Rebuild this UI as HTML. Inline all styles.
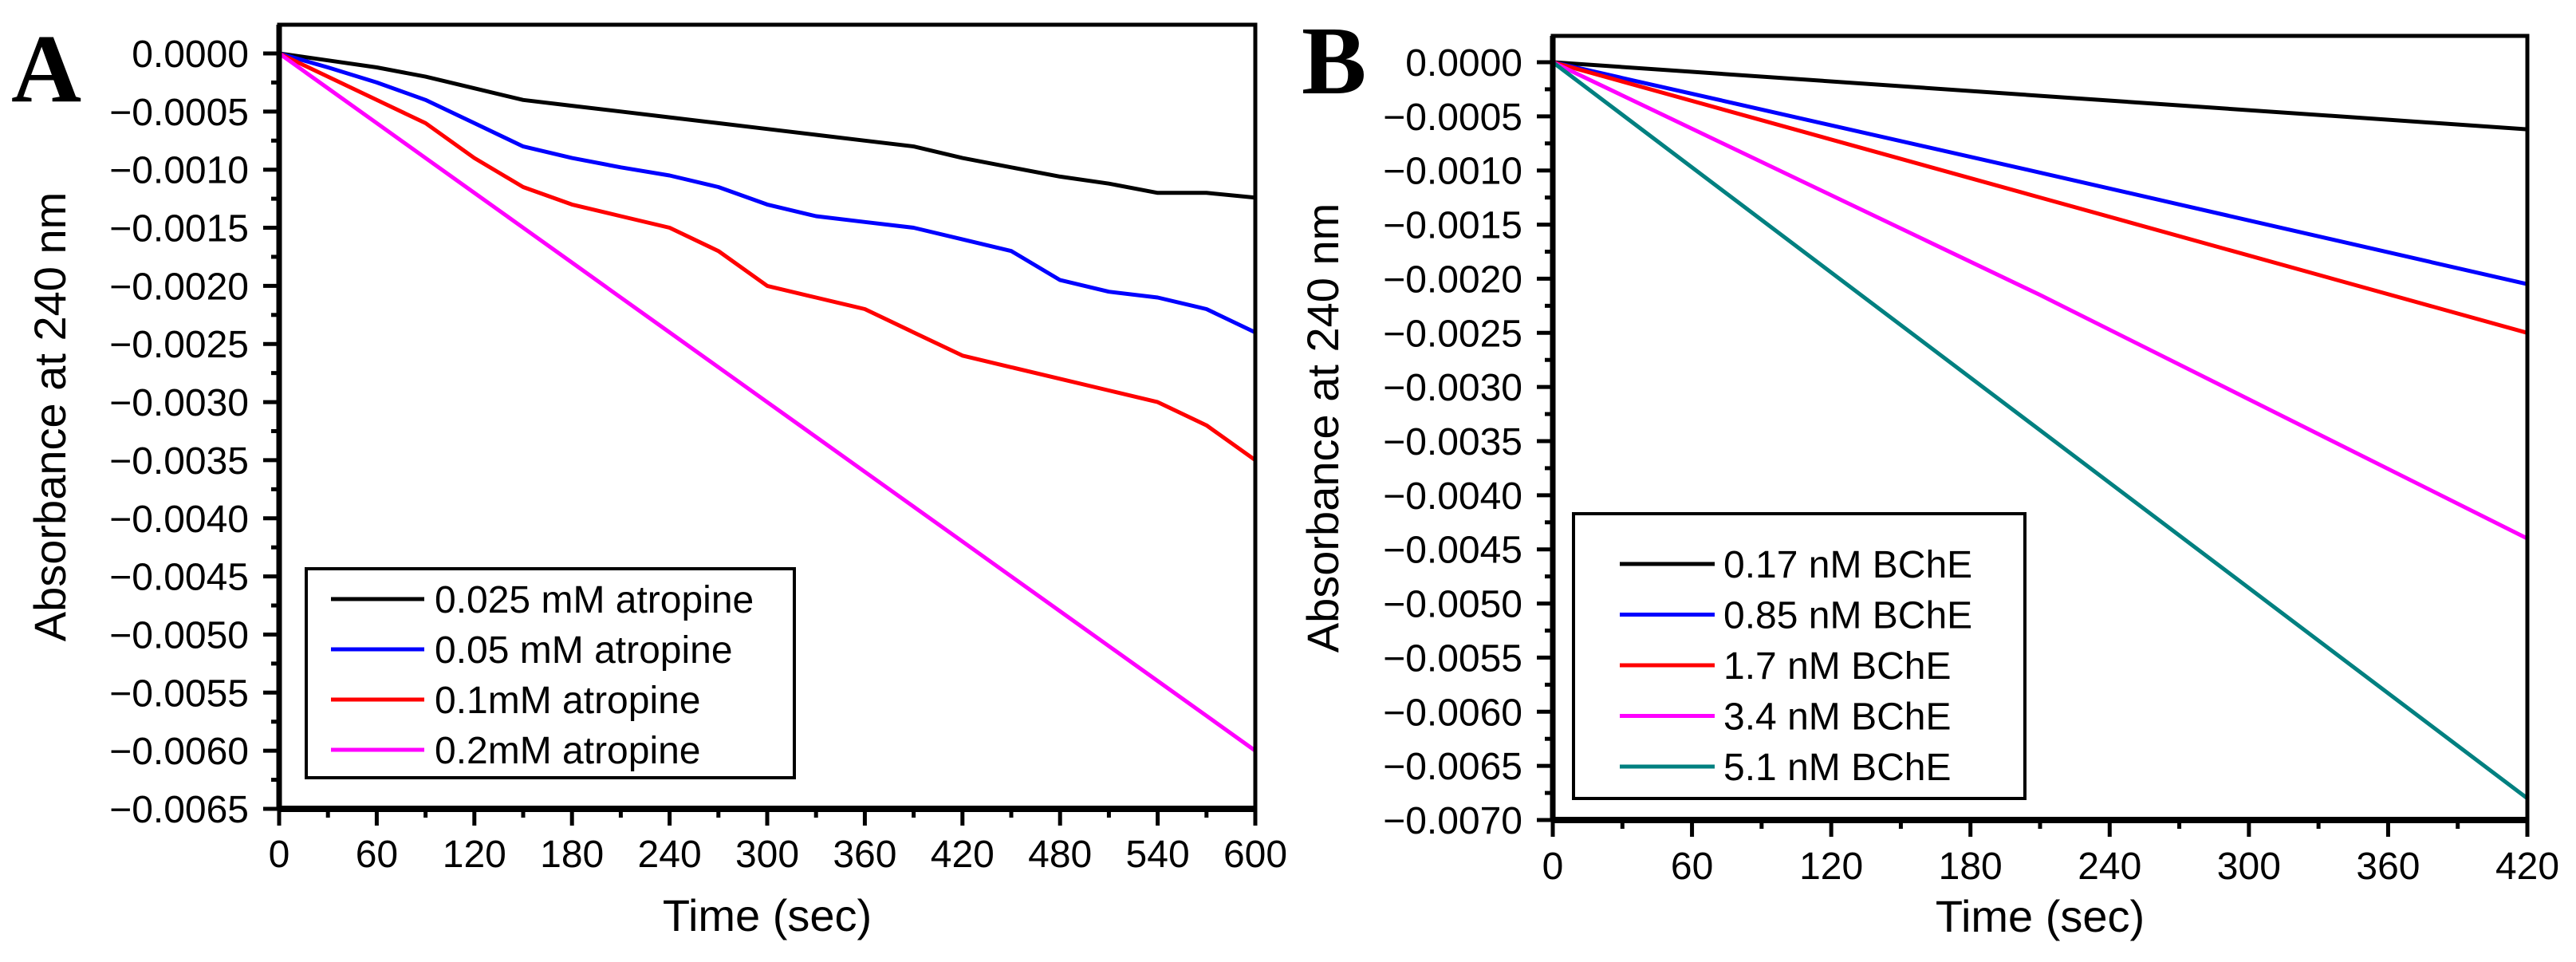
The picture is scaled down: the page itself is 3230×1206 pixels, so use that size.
<!DOCTYPE html>
<html><head><meta charset="utf-8"><style>
html,body{margin:0;padding:0;background:#fff;}
svg{display:block;font-family:"Liberation Sans",Arial,sans-serif;}
</style></head><body>
<svg id="fig" width="3230" height="1206" viewBox="0 0 3230 1206" xmlns="http://www.w3.org/2000/svg">
<text x="14" y="127" font-family="Liberation Serif,serif" font-weight="bold" font-size="122">A</text>
<text x="1632" y="117" font-family="Liberation Serif,serif" font-weight="bold" font-size="122">B</text>
</svg>
<script>
// Panel A data
const aTimes = [0,30,60,90,120,150,180,210,240,270,300,330,360,390,420,450,480,510,540,570,600];
const aBlack = [0,-0.00006,-0.00012,-0.0002,-0.0003,-0.0004,-0.00045,-0.0005,-0.00055,-0.0006,-0.00065,-0.0007,-0.00075,-0.0008,-0.0009,-0.00098,-0.00106,-0.00112,-0.0012,-0.0012,-0.00124];
const aBlue = [0,-0.00012,-0.00025,-0.0004,-0.0006,-0.0008,-0.0009,-0.00098,-0.00105,-0.00115,-0.0013,-0.0014,-0.00145,-0.0015,-0.0016,-0.0017,-0.00195,-0.00205,-0.0021,-0.0022,-0.0024];
const aRed = [0,-0.0002,-0.0004,-0.0006,-0.0009,-0.00115,-0.0013,-0.0014,-0.0015,-0.0017,-0.002,-0.0021,-0.0022,-0.0024,-0.0026,-0.0027,-0.0028,-0.0029,-0.003,-0.0032,-0.0035];
const aMagenta = [0,-0.0003,-0.0006,-0.0009,-0.0012,-0.0015,-0.0018,-0.0021,-0.0024,-0.0027,-0.003,-0.0033,-0.0036,-0.0039,-0.0042,-0.0045,-0.0048,-0.0051,-0.0054,-0.0057,-0.006];
const aLabels = ["0.025 mM atropine","0.05 mM atropine","0.1mM atropine","0.2mM atropine"];
const aXTicks = [0,60,120,180,240,300,360,420,480,540,600];
const aYTicks = [0,-0.0005,-0.001,-0.0015,-0.002,-0.0025,-0.003,-0.0035,-0.004,-0.0045,-0.005,-0.0055,-0.006,-0.0065];
// Panel B data
const bTimes = [0,210,420];
const bBlack = [0,-0.00031,-0.00062];
const bBlue = [0,-0.00102,-0.00205];
const bRed = [0,-0.00125,-0.0025];
const bMagenta = [0,-0.00215,-0.0044];
const bTeal = [0,-0.0034,-0.0068];
const bLabels = ["0.17 nM BChE","0.85 nM BChE","1.7 nM BChE","3.4 nM BChE","5.1 nM BChE"];
const bXTicks = [0,60,120,180,240,300,360,420];
const bYTicks = [0,-0.0005,-0.001,-0.0015,-0.002,-0.0025,-0.003,-0.0035,-0.004,-0.0045,-0.005,-0.0055,-0.006,-0.0065,-0.007];

const NS="http://www.w3.org/2000/svg";
const svg=document.getElementById('fig');
function el(tag,attrs,parent){const e=document.createElementNS(NS,tag);for(const k in attrs)e.setAttribute(k,attrs[k]);(parent||svg).appendChild(e);return e;}

function panel(cfg){
  const g=el('g',{});
  
  
  const {L,R,T,B,xMax,yMin}=cfg;
  const xs=v=>L+(v/xMax)*(R-L);
  const ys=v=>cfg.y0+(v/yMin)*(B-cfg.y0);
  cfg.series.forEach((s,i)=>{
    const d=cfg.times.map((t,j)=>(j?'L':'M')+xs(t).toFixed(1)+' '+ys(s.v[j]).toFixed(1)).join(' ');
    const p=el('path',{d:d,fill:'none',stroke:s.c,'stroke-width':5,'stroke-linejoin':'round'},g);
    
    
  });
  const f=el('rect',{x:L,y:T,width:R-L,height:B-T,fill:'none',stroke:'#000','stroke-width':5},g);
  
  
  el('line',{x1:L,y1:T,x2:L,y2:B,stroke:'#000','stroke-width':7},g);
  el('line',{x1:L,y1:B,x2:R,y2:B,stroke:'#000','stroke-width':8},g);
  const step=cfg.yTicks[1]-cfg.yTicks[0];
  cfg.yTicks.forEach((v,i)=>{
    const y=ys(v);
    el('line',{x1:L-20,y1:y,x2:L,y2:y,stroke:'#000','stroke-width':5},g);
    if(i<cfg.yTicks.length-1){const ym=ys(v+step/2);el('line',{x1:L-10,y1:ym,x2:L,y2:ym,stroke:'#000','stroke-width':5},g);}
    const t=el('text',{x:L-38,y:y+17,'font-size':48,'text-anchor':'end'},g);
    t.textContent=(v===0?'0.0000':'\u2212'+Math.abs(v).toFixed(4));
    
    
  });
  const xstep=cfg.xTicks[1]-cfg.xTicks[0];
  cfg.xTicks.forEach((v,i)=>{
    const x=xs(v);
    el('line',{x1:x,y1:B,x2:x,y2:B+21,stroke:'#000','stroke-width':5},g);
    if(i<cfg.xTicks.length-1){const xm=xs(v+xstep/2);el('line',{x1:xm,y1:B,x2:xm,y2:B+11,stroke:'#000','stroke-width':5},g);}
    const t=el('text',{x:x,y:B+cfg.xlab,'font-size':48,'text-anchor':'middle'},g);
    t.textContent=String(v);
    
    
  });
  const xt=el('text',{x:(L+R)/2,y:cfg.xtY,'font-size':56,'text-anchor':'middle'},g);
  xt.textContent='Time (sec)';
  
  
  const yt=el('text',{x:0,y:0,'font-size':56,'text-anchor':'middle',transform:'translate('+cfg.ytX+','+((T+B)/2)+') rotate(-90)'},g);
  yt.textContent='Absorbance at 240 nm';
  
  
  const lg=cfg.leg;
  const lb=el('rect',{x:lg.x,y:lg.y,width:lg.w,height:lg.h,fill:'#fff',stroke:'#000','stroke-width':4},g);
  
  
  cfg.series.forEach((s,i)=>{
    const y=lg.r0+i*lg.dy;
    const ln=el('line',{x1:lg.lx1,y1:y,x2:lg.lx2,y2:y,stroke:s.c,'stroke-width':5},g);
    
    
    const t=el('text',{x:lg.tx,y:y+17,'font-size':48},g);
    t.textContent=cfg.labels[i];
    
    
  });
}

panel({name:'panel-a-chart',L:350,R:1574,T:31,B:1014,y0:67,yMin:-0.0065,xMax:600,times:aTimes,
  series:[{n:'0-025mm',c:'#000',v:aBlack},{n:'0-05mm',c:'#0000ff',v:aBlue},{n:'0-1mm',c:'#ff0000',v:aRed},{n:'0-2mm',c:'#ff00ff',v:aMagenta}],
  labels:aLabels,xTicks:aXTicks,yTicks:aYTicks,xlab:73,xtY:1167,ytX:82,
  leg:{x:384,y:713,w:612,h:262,r0:751,dy:63,lx1:415,lx2:532,tx:545}});
panel({name:'panel-b-chart',L:1947,R:3169,T:45,B:1028,y0:78,yMin:-0.007,xMax:420,times:bTimes,
  series:[{n:'0-17nm',c:'#000',v:bBlack},{n:'0-85nm',c:'#0000ff',v:bBlue},{n:'1-7nm',c:'#ff0000',v:bRed},{n:'3-4nm',c:'#ff00ff',v:bMagenta},{n:'5-1nm',c:'#008080',v:bTeal}],
  labels:bLabels,xTicks:bXTicks,yTicks:bYTicks,xlab:74,xtY:1168,ytX:1678,
  leg:{x:1973,y:644,w:566,h:357,r0:707,dy:63.5,lx1:2031,lx2:2150,tx:2161}});
</script>
</body></html>
